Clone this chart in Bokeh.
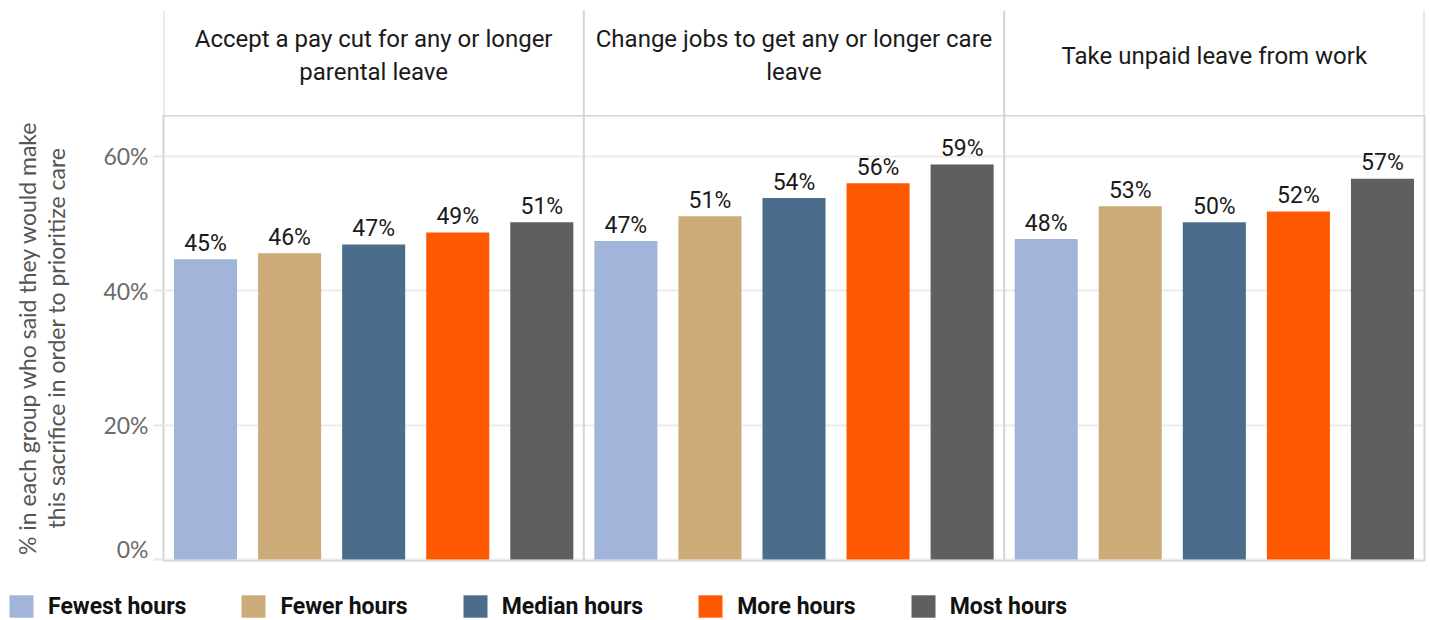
from bokeh.plotting import figure
from bokeh.models import (ColumnDataSource, FactorRange, Range1d, FixedTicker,
                          PrintfTickFormatter, Span, Legend, LegendItem)
from bokeh.layouts import column
from bokeh.embed import file_html
from bokeh.resources import INLINE

# ---------------- data ----------------
panels = [
    "Accept a pay cut for any or longer\nparental leave",
    "Change jobs to get any or longer care\nleave",
    "Take unpaid leave from work",
]
groups = ["Fewest hours", "Fewer hours", "Median hours", "More hours", "Most hours"]
colors = ["#a1b4da", "#cdab79", "#4b6c8b", "#fe5800", "#5f5f5f"]

pay_cut = [44.7, 45.6, 46.9, 48.7, 50.2]
change_jobs = [47.4, 51.1, 53.8, 56.0, 58.8]
unpaid_leave = [47.7, 52.6, 50.2, 51.8, 56.7]

pay_cut_labels = ["45%", "46%", "47%", "49%", "51%"]
change_jobs_labels = ["47%", "51%", "54%", "56%", "59%"]
unpaid_leave_labels = ["48%", "53%", "50%", "52%", "57%"]

y_ticks = [0, 20, 40, 60]
y_title = "% in each group who said they would make\nthis sacrifice in order to prioritize care"

# ---------------- build ----------------
series = [pay_cut, change_jobs, unpaid_leave]
series_labels = [pay_cut_labels, change_jobs_labels, unpaid_leave_labels]

xs, tops, cols, labs = [], [], [], []
for pn, vals, lbls in zip(panels, series, series_labels):
    for g, c, v, l in zip(groups, colors, vals, lbls):
        xs.append((pn, g))
        tops.append(v)
        cols.append(c)
        labs.append(l)
src = ColumnDataSource(dict(x=xs, top=tops, color=cols, label=labs))

factors = [(pn, g) for pn in panels for g in groups]
x_range = FactorRange(factors=factors, group_padding=0, range_padding=0, factor_padding=0)

BORDER = "#d4d4d4"
FONT = "Roboto"
W = 1430
LEFT = 163
RIGHT = 6

# header figure
hdr = figure(width=W, height=115, x_range=x_range, y_range=Range1d(0, 1),
             toolbar_location=None, output_backend="svg",
             x_axis_location=None, y_axis_location=None,
             min_border_left=LEFT, min_border_right=RIGHT,
             min_border_top=10, min_border_bottom=0,
             outline_line_color=None)
hdr.grid.visible = False
n_g = len(groups)
for k in range(len(panels) + 1):
    hdr.add_layout(Span(location=k * n_g, dimension="height",
                        line_color=BORDER, line_width=2))
hsrc = ColumnDataSource(dict(x=[(pn, groups[n_g // 2]) for pn in panels],
                             y=[0.57] * len(panels), text=panels))
hdr.text(x="x", y="y", text="text", source=hsrc, text_align="center",
         text_baseline="middle", text_font_size="24px", text_color="#1a1a1a",
         text_font={"value": FONT}, text_line_height=1.2)

# main figure
p = figure(width=W, height=447, x_range=x_range, y_range=Range1d(-0.15, 66.1),
           toolbar_location=None, output_backend="svg",
           x_axis_location=None,
           min_border_left=LEFT, min_border_right=RIGHT,
           min_border_top=0, min_border_bottom=2,
           outline_line_color=BORDER, outline_line_width=2)
p.vbar(x="x", top="top", width=0.75, color="color", source=src, line_color=None)
p.text(x="x", y="top", text="label", source=src, text_align="center",
       text_baseline="alphabetic", y_offset=-16, text_font_size="23px",
       text_color="#1a1a1a", text_font={"value": FONT})
for k in range(1, len(panels)):
    p.add_layout(Span(location=k * n_g, dimension="height",
                      line_color=BORDER, line_width=2))

p.xgrid.visible = False
p.ygrid.ticker = FixedTicker(ticks=y_ticks)
p.ygrid.grid_line_color = "#ececec"
p.ygrid.grid_line_width = 2

ax = p.yaxis[0]
ax.ticker = FixedTicker(ticks=y_ticks)
ax.formatter = PrintfTickFormatter(format="%d%%")
ax.axis_line_color = None
ax.major_tick_in = 0
ax.major_tick_out = 10
ax.major_tick_line_color = "#e6e6e6"
ax.major_tick_line_width = 2
ax.minor_tick_line_color = None
ax.major_label_standoff = 5
ax.major_label_text_font = "Lato"
ax.major_label_text_font_size = "23px"
ax.major_label_text_color = "#6b6b6b"
ax.axis_label = y_title
ax.axis_label_text_font = "Lato"
ax.axis_label_text_font_size = "23px"
ax.axis_label_text_font_style = "normal"
ax.axis_label_text_color = "#555555"
ax.axis_label_text_line_height = 1.05
ax.axis_label_standoff = 30

# legend figure
leg = figure(width=W, height=58, x_range=(0, 1), y_range=(0, 1),
             toolbar_location=None, output_backend="svg",
             x_axis_location=None, y_axis_location=None,
             min_border=0, outline_line_color=None)
leg.frame_align = False
leg.grid.visible = False
items = []
for g, c in zip(groups, colors):
    r = leg.vbar(x=[0.5], top=[0], bottom=[0], width=0.1, color=c, line_color=None)
    items.append(LegendItem(label=g, renderers=[r]))
legend = Legend(items=items, orientation="horizontal", location=(6, 0),
                glyph_width=30, glyph_height=28, label_standoff=12, spacing=52,
                label_text_font=FONT, label_text_font_size="23px",
                label_text_font_style="bold", label_text_color="#111111",
                label_height=28, padding=0, margin=0,
                border_line_color=None, background_fill_alpha=0)
leg.add_layout(legend, "center")

layout = column(hdr, p, leg, spacing=0)
open("out.html", "w").write(file_html(layout, INLINE))
